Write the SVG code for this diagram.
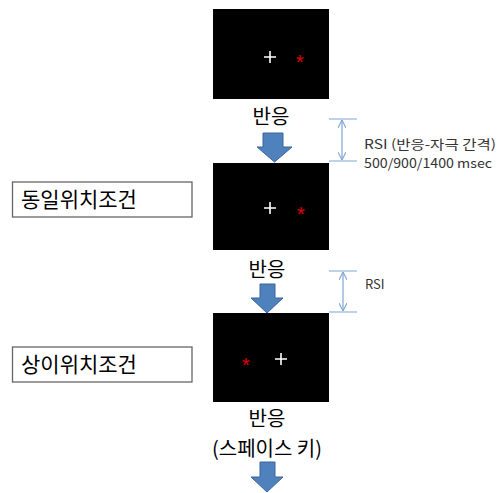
<svg xmlns="http://www.w3.org/2000/svg" width="500" height="493" viewBox="0 0 500 493">
<defs>
<style>
.scr{fill:#000}
.cross{stroke:#fff;stroke-width:1.6}
.star{fill:#e00000;font-family:"Liberation Sans",sans-serif;font-size:20px;text-anchor:middle}
.kr{font-family:"Malgun Gothic","Noto Sans CJK KR",sans-serif;fill:#000}
.big{font-size:20px;text-anchor:middle}
.lbl{font-size:21px}
.note{font-family:"Malgun Gothic","Noto Sans CJK KR",sans-serif;font-size:13px;fill:#333}
.box{fill:#fff;stroke:#666;stroke-width:1.3}
.barr{fill:#4f81bd;stroke:#3a6699;stroke-width:1}
.dim{stroke:#7fa6d6;stroke-width:1.2;fill:none}
</style>
<marker id="ah" viewBox="0 0 10 10" refX="10" refY="5" markerWidth="8" markerHeight="8" orient="auto-start-reverse" markerUnits="userSpaceOnUse">
<path d="M0,0 L10,5 L0,10" fill="none" stroke="#7fa6d6" stroke-width="1.4"/>
</marker>
</defs>
<g id="screen1">
<rect class="scr" x="213" y="9" width="116" height="90"/>
<path class="cross" d="M264,57 H276 M270,51 V63"/>
<text class="star" x="300" y="69">*</text>
</g>
<g id="resp1"><text class="kr big" x="271" y="124">반응</text></g>
<g id="screen2">
<rect class="scr" x="213" y="163" width="116" height="87"/>
<path class="cross" d="M264,208 H276 M270,202 V214"/>
<text class="star" x="301" y="221">*</text>
</g>
<g id="label1">
<rect class="box" x="12.5" y="182" width="179.5" height="35"/>
<text class="kr lbl" x="21" y="207">동일위치조건</text>
</g>
<g id="resp2"><text class="kr big" x="267" y="277">반응</text></g>
<g id="screen3">
<rect class="scr" x="213" y="313" width="116" height="89"/>
<path class="cross" d="M275,359 H287 M281,353 V365"/>
<text class="star" x="246" y="372">*</text>
</g>
<g id="label2">
<rect class="box" x="12.5" y="347" width="179.5" height="35"/>
<text class="kr lbl" x="21" y="372">상이위치조건</text>
</g>
<g id="resp3">
<text class="kr big" x="267" y="426">반응</text>
<text class="kr big" x="267" y="456">(스페이스 키)</text>
</g>
<g id="connectors">
<path class="barr" d="M263,133 H283 V147 H292 L274.5,162 L257,147 H263 Z"/>
<path class="barr" d="M260,284 H275 V298 H283 L267,313 L251,298 H260 Z"/>
<path class="barr" d="M260,462 H275 V477 H283 L267,492 L251,477 H260 Z"/>
<path class="dim" d="M329,119 H357 M329,161 H357 M329,271 H357 M329,312 H357"/>
<line class="dim" x1="342" y1="120" x2="342" y2="160" marker-start="url(#ah)" marker-end="url(#ah)"/>
<line class="dim" x1="343" y1="272" x2="343" y2="311" marker-start="url(#ah)" marker-end="url(#ah)"/>
</g>
<g id="rsi1">
<text class="note" x="364" y="149" textLength="132" lengthAdjust="spacingAndGlyphs">RSI (반응-자극 간격)</text>
<text class="note" x="364" y="168" textLength="128" lengthAdjust="spacingAndGlyphs">500/900/1400 msec</text>
</g>
<g id="rsi2"><text class="note" x="365" y="289">RSI</text></g>
</svg>
